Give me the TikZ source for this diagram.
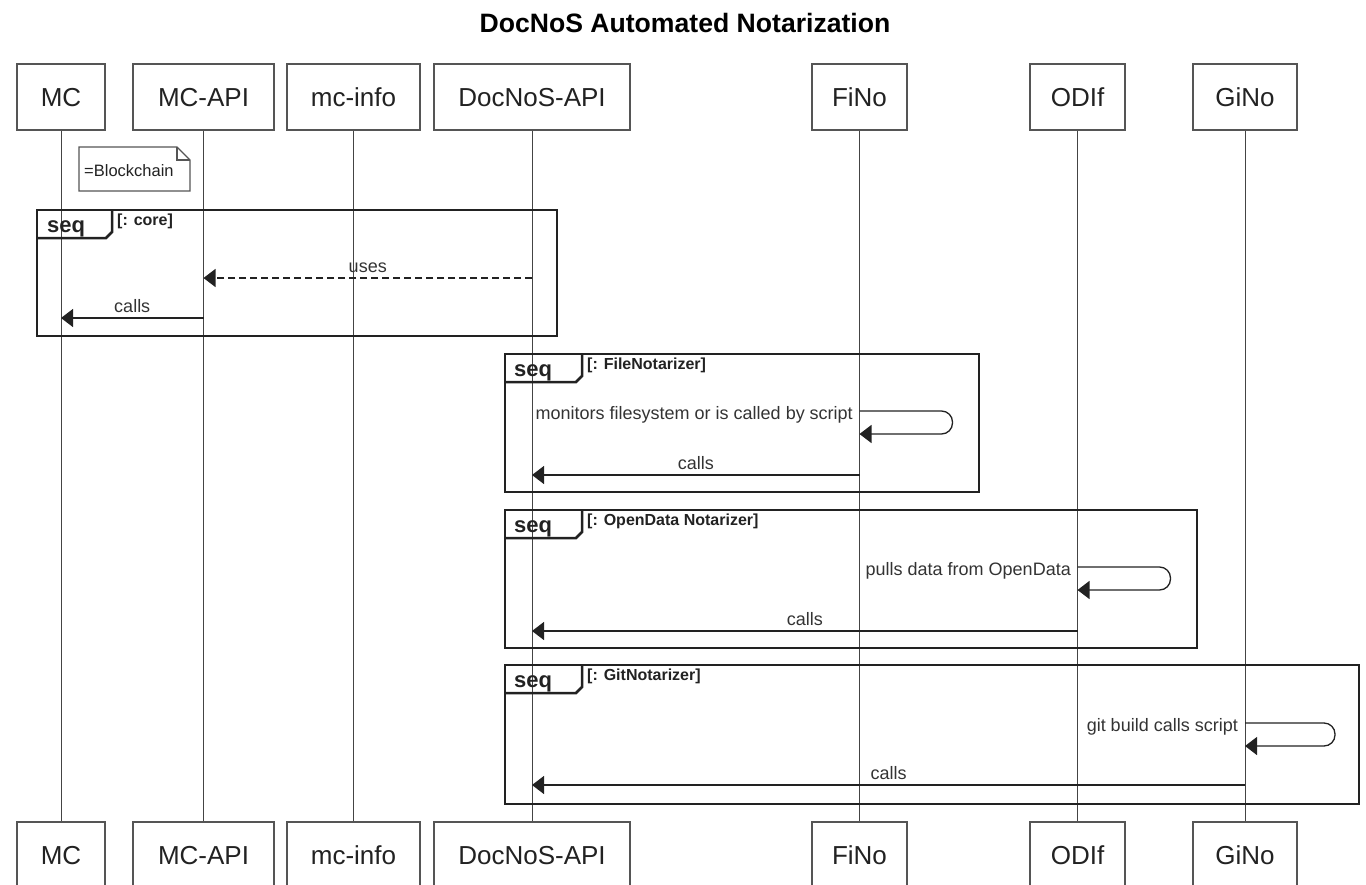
\documentclass[tikz,border=0pt]{standalone}
\usepackage{fontspec}
\setmainfont{Liberation Sans}
\usetikzlibrary{arrows.meta}
\definecolor{partc}{HTML}{555555}
\definecolor{lifec}{HTML}{444444}
\definecolor{msgc}{HTML}{222222}
\definecolor{frmc}{HTML}{222222}
\definecolor{txt}{HTML}{222222}
\definecolor{lbltxt}{HTML}{333333}
\begin{document}
\begin{tikzpicture}[x=1pt,y=-1pt,
  part/.style={draw=partc, line width=1.4pt, fill=white, minimum height=66pt, inner sep=0pt,
    font=\fontsize{26}{30}\selectfont, text=txt, text height=18.7pt, text depth=0pt},
  life/.style={draw=lifec, line width=1pt},
  msg/.style={draw=msgc, line width=1.3pt, -{Triangle[length=12pt,width=18pt]}},
  lbl/.style={font=\fontsize{18}{20}\selectfont, text=lbltxt, inner sep=0pt},
  frm/.style={draw=frmc, line width=2.5pt},
  tabtxt/.style={font=\bfseries\fontsize{22}{24}\selectfont, text=txt, inner sep=0pt, anchor=base west},
  grdtxt/.style={font=\bfseries\fontsize{16}{18}\selectfont, text=txt, inner sep=0pt, anchor=base west},
  notebox/.style={draw=partc, line width=1.2pt, fill=white},
]
\useasboundingbox (0,0) rectangle (1366,884);
\clip (0,0) rectangle (1366,884);

% title
\node[font=\bfseries\fontsize{26.6}{30}\selectfont, inner sep=0pt, anchor=base] (title) at (685,32) {DocNoS Automated Notarization};

% participants (top)
\node[part, minimum width=88pt]  (mcT)  at (61,97)    {MC};
\node[part, minimum width=141pt] (apiT) at (203.5,97) {MC-API};
\node[part, minimum width=133pt] (infT) at (353.5,97) {mc-info};
\node[part, minimum width=196pt] (docT) at (532,97)   {DocNoS-API};
\node[part, minimum width=95pt]  (finT) at (859.5,97) {FiNo};
\node[part, minimum width=95pt]  (odiT) at (1077.5,97){ODIf};
\node[part, minimum width=104pt] (ginT) at (1245,97)  {GiNo};
% participants (bottom)
\node[part, minimum width=88pt]  (mcB)  at (61,855)    {MC};
\node[part, minimum width=141pt] (apiB) at (203.5,855) {MC-API};
\node[part, minimum width=133pt] (infB) at (353.5,855) {mc-info};
\node[part, minimum width=196pt] (docB) at (532,855)   {DocNoS-API};
\node[part, minimum width=95pt]  (finB) at (859.5,855) {FiNo};
\node[part, minimum width=95pt]  (odiB) at (1077.5,855){ODIf};
\node[part, minimum width=104pt] (ginB) at (1245,855)  {GiNo};

% lifelines
\draw[life] (mcT) -- (mcB);
\draw[life] (apiT) -- (apiB);
\draw[life] (infT) -- (infB);
\draw[life] (docT) -- (docB);
\draw[life] (finT) -- (finB);
\draw[life] (odiT) -- (odiB);
\draw[life] (ginT) -- (ginB);

% note
\draw[notebox] (79,147) -- (177,147) -- (190,160) -- (190,191) -- (79,191) -- cycle;
\draw[draw=partc, line width=1.2pt] (177,147) -- (177,160) -- (190,160);
\node[font=\fontsize{16.5}{18}\selectfont, text=txt, inner sep=0pt, anchor=base west] (note) at (84,176) {=Blockchain};

% ---- seq core
\draw[frm] (37,210) rectangle (557,336);
\draw[frm] (37,238) -- (106,238) -- (112,232) -- (112,210);
\node[tabtxt] (s1) at (47,232) {seq};
\node[grdtxt] (g1) at (117,225) {[: core]};
\draw[msg, dash pattern=on 7pt off 4pt] (docT |- 0,278) -- node[lbl, midway, anchor=base, yshift=6pt] {uses} (apiT |- 0,278);
\draw[msg] (apiT |- 0,318) -- node[lbl, midway, anchor=base, yshift=6pt] {calls} (mcT |- 0,318);

% ---- seq FileNotarizer
\draw[frm] (505,354) rectangle (979,492);
\draw[frm] (505,382) -- (576,382) -- (582,376) -- (582,354);
\node[tabtxt] (s2) at (514,376) {seq};
\node[grdtxt] (g2) at (587,369) {[: FileNotarizer]};
\draw[msg, rounded corners=11pt] (finT |- 0,411) -- ++(93,0) -- ++(0,23) -- (finT |- 0,434);
\node[lbl, anchor=base east] (l2) at (853,419) {monitors filesystem or is called by script};
\draw[msg] (finT |- 0,475) -- node[lbl, midway, anchor=base, yshift=6pt] {calls} (docT |- 0,475);

% ---- seq OpenData Notarizer
\draw[frm] (505,510) rectangle (1197,648);
\draw[frm] (505,538) -- (576,538) -- (582,532) -- (582,510);
\node[tabtxt] (s3) at (514,532) {seq};
\node[grdtxt] (g3) at (587,525) {[: OpenData Notarizer]};
\draw[msg, rounded corners=11pt] (odiT |- 0,567) -- ++(93,0) -- ++(0,23) -- (odiT |- 0,590);
\node[lbl, anchor=base east] (l3) at (1071,575) {pulls data from OpenData};
\draw[msg] (odiT |- 0,631) -- node[lbl, midway, anchor=base, yshift=6pt] {calls} (docT |- 0,631);

% ---- seq GitNotarizer
\draw[frm] (505,665) rectangle (1359,804);
\draw[frm] (505,693) -- (576,693) -- (582,687) -- (582,665);
\node[tabtxt] (s4) at (514,687) {seq};
\node[grdtxt] (g4) at (587,680) {[: GitNotarizer]};
\draw[msg, rounded corners=11pt] (ginT |- 0,723) -- ++(90,0) -- ++(0,23) -- (ginT |- 0,746);
\node[lbl, anchor=base east] (l4) at (1238,731) {git build calls script};
\draw[msg] (ginT |- 0,785) -- node[lbl, midway, anchor=base, yshift=6pt] {calls} (docT |- 0,785);
\end{tikzpicture}
\end{document}
